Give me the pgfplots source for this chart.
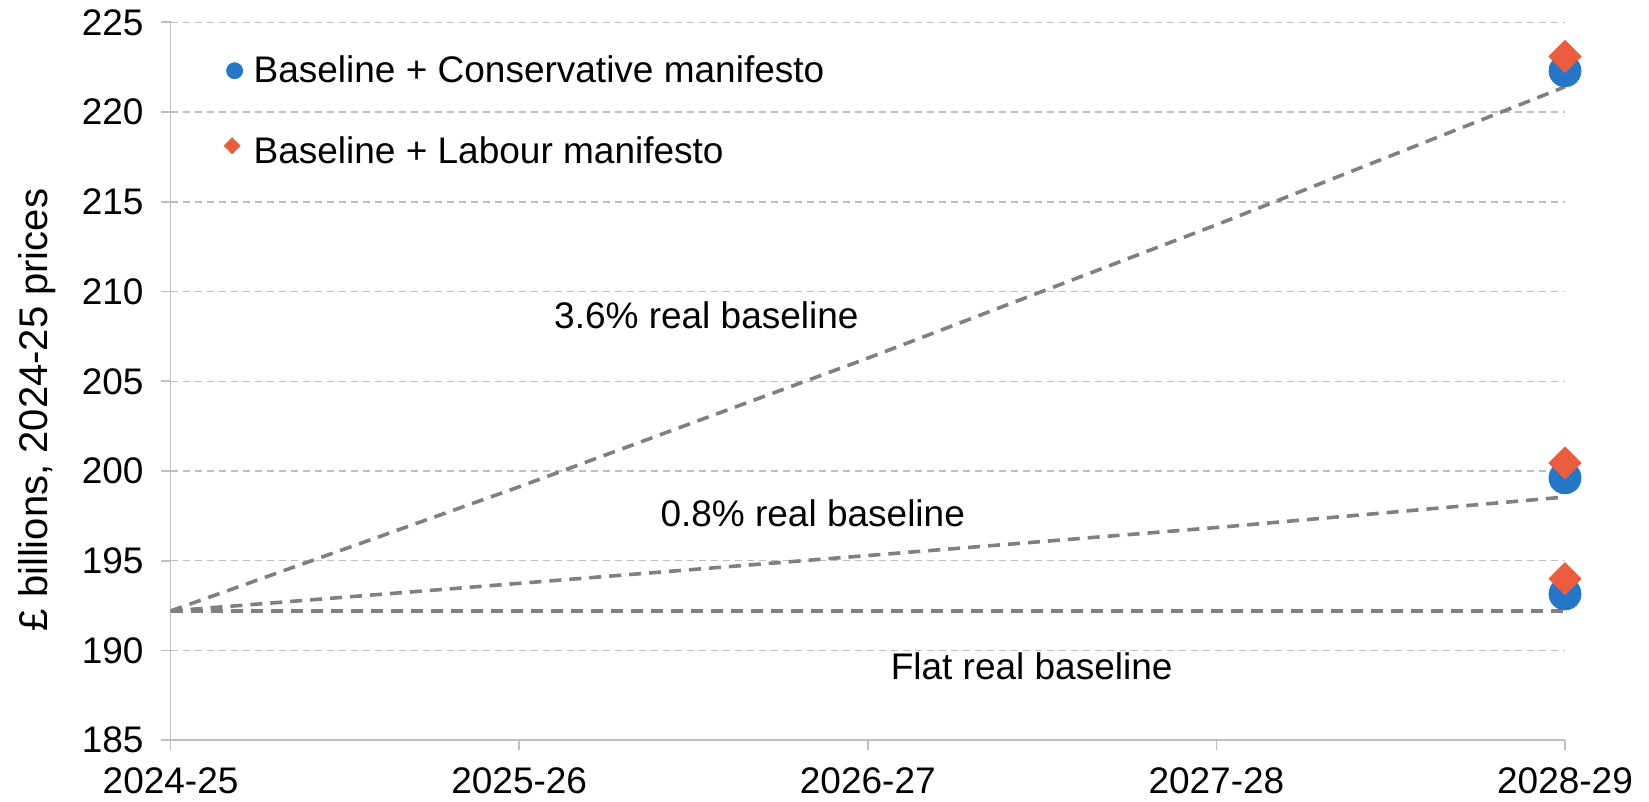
\documentclass[border=0pt]{standalone}
\usepackage{pgfplots}
\pgfplotsset{compat=1.18}
\usepackage{fontspec}
\setmainfont{Liberation Sans}
\definecolor{cblue}{RGB}{36,118,200}
\definecolor{corange}{RGB}{236,93,64}
\definecolor{gridgray}{RGB}{191,191,191}
\definecolor{linegray}{RGB}{128,128,128}
\begin{document}
\begin{tikzpicture}
\begin{axis}[name=ax, scale only axis, width=697.2pt, height=358.9pt,
  xmin=0, xmax=4, ymin=185, ymax=225,
  xtick={0,1,2,3,4},
  xticklabels={2024-25,2025-26,2026-27,2027-28,2028-29},
  ytick={185,190,...,225},
  ymajorgrids,
  grid style={gridgray, dash pattern=on 3.5pt off 2.5pt, line width=0.75pt},
  axis x line*=bottom, axis y line*=left,
  axis line style={gridgray, line width=0.9pt},
  tick style={gridgray, line width=0.9pt},
  tick align=outside, major tick length=5pt,
  ticklabel style={font=\fontsize{18.5}{22}\selectfont, text=black},
  xticklabel style={yshift=-5.3pt},
  yticklabel style={xshift=-5pt},
  /pgf/number format/assume math mode=true,
  ylabel={£ billions, 2024-25 prices},
  ylabel style={font=\fontsize{20}{24}\selectfont, at={(axis description cs:-0.096,0.46)}, anchor=center},
  clip=false,
  legend style={at={(axis description cs:0,1)}, anchor=north west, xshift=23.4pt, yshift=-12.5pt,
    draw=none, fill=none, font=\fontsize{18.5}{22}\selectfont, row sep=21.6pt, cells={anchor=west}},
]
\addplot[forget plot, linegray, line width=1.8pt, dash pattern=on 6pt off 4pt]
  coordinates {(0,192.2)(1,192.2)(2,192.2)(3,192.2)(4,192.2)};
\addplot[forget plot, linegray, line width=1.8pt, dash pattern=on 6pt off 4pt]
  coordinates {(0,192.2)(1,193.74)(2,195.29)(3,196.85)(4,198.55)};
\addplot[forget plot, linegray, line width=1.8pt, dash pattern=on 6pt off 4pt]
  coordinates {(0,192.2)(1,199.12)(2,206.29)(3,213.72)(4,221.41)};
\addplot[only marks, mark=*, mark size=8pt, color=cblue,
  legend image code/.code={\fill[cblue] (0.15cm,0) circle (4pt); \path[draw=none,fill=none] (0.15cm,0) -- ++(7.5pt,0);}]
  coordinates {(4,222.3)(4,199.62)(4,193.15)};
\addlegendentry{Baseline + Conservative manifesto}
\addplot[only marks, mark=square*, mark size=5.66pt, mark options={rotate=45}, color=corange,
  legend image code/.code={\fill[corange,rotate=45] (0.15cm,0) ++(-2.8pt,-2.8pt) rectangle ++(5.6pt,5.6pt); \path[draw=none,fill=none] (0.15cm,0) -- ++(7.5pt,0);}]
  coordinates {(4,223.1)(4,200.45)(4,194.0)};
\addlegendentry{Baseline + Labour manifesto}
\node[font=\fontsize{18.5}{22}\selectfont] at (axis cs:1.537,208.67) {3.6\% real baseline};
\node[font=\fontsize{18.5}{22}\selectfont] at (axis cs:1.842,197.65) {0.8\% real baseline};
\node[font=\fontsize{18.5}{22}\selectfont] at (axis cs:2.47,189.14) {Flat real baseline};
\end{axis}
\pgfresetboundingbox
\path ([xshift=-85.3pt,yshift=-30.5pt]ax.south west) rectangle ([xshift=42pt,yshift=11.2pt]ax.north east);
\end{tikzpicture}
\end{document}
